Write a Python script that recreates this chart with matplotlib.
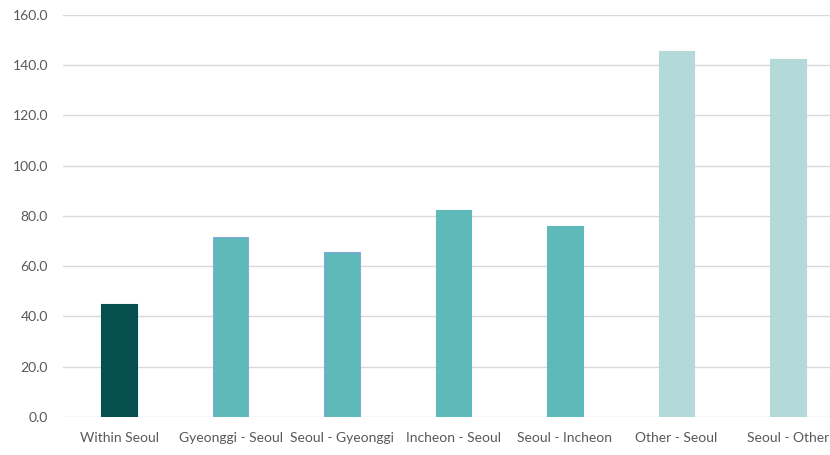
import matplotlib
matplotlib.use("Agg")
import matplotlib.pyplot as plt

# commute time by origin - destination
categories = ["Within Seoul", "Gyeonggi - Seoul", "Seoul - Gyeonggi", "Incheon - Seoul",
              "Seoul - Incheon", "Other - Seoul", "Seoul - Other"]
values = [44.9, 71.7, 65.5, 82.2, 75.9, 145.7, 142.5]
bar_colors = ["#054f4f", "#5dbab9", "#5dbab9", "#5dbab9", "#5dbab9", "#b3dad9", "#b3dad9"]
edge_colors = ["#054f4f", "#8aa6d6", "#8aa6d6", "#5dbab9", "#5dbab9", "#b3dad9", "#b3dad9"]
yticks = [0, 20, 40, 60, 80, 100, 120, 140, 160]

plt.rcParams['font.family'] = ['Lato', 'DejaVu Sans']

fig = plt.figure(figsize=(8.3, 4.55), dpi=100)
ax = fig.add_axes([0.0763, 0.084, 0.940, 0.883])

x = list(range(len(categories)))
ax.bar(x, values, width=0.32, color=bar_colors, edgecolor=edge_colors, linewidth=0.8, zorder=3)

ax.set_xlim(-0.5, len(categories) - 0.5)
ax.set_ylim(0, 160)
ax.set_yticks(yticks)
ax.set_yticklabels([f"{v:.1f}" for v in yticks])
ax.set_xticks(x)
ax.set_xticklabels(categories)

ax.grid(axis='y', color='#d9d9d9', linewidth=1.0, zorder=0)
for s in ax.spines.values():
    s.set_visible(False)
ax.tick_params(axis='both', length=0, colors='#595959', labelsize=10)
ax.tick_params(axis='y', pad=11)
ax.tick_params(axis='x', pad=11)

fig.savefig("out.png", dpi=100)
